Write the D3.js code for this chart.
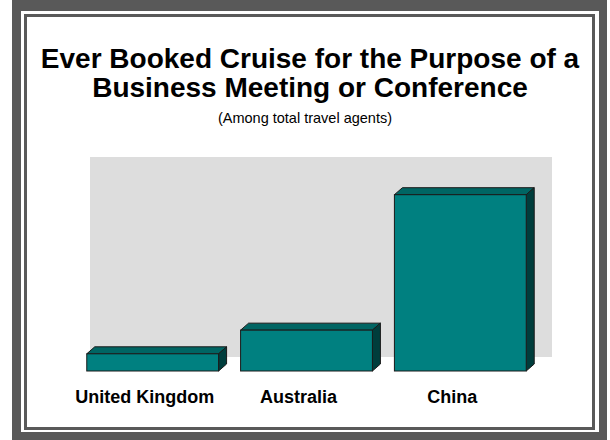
<!DOCTYPE html>
<html>
<head>
<meta charset="utf-8">
<script src="https://cdn.jsdelivr.net/npm/d3@7"></script>
<style>
	body { margin: 0; background: #ffffff; }
	text { font-family: "Liberation Sans", Arial, sans-serif; }
</style>
</head>
<body>
<script>
	const width = 610;
	const height = 440;

	//chart data (percent of agents)
	const categories = ["United Kingdom", "Australia", "China"];
	const values = [4, 9.5, 41];
	const titleLines = ["Ever Booked Cruise for the Purpose of a", "Business Meeting or Conference"];
	const subtitle = "(Among total travel agents)";

	const depthX = 8;
	const depthY = 7;

	const svg = d3.select("body")
		.append("svg")
		.attr("width", width)
		.attr("height", height);

	//frame: thick outer grey border, thin inner line
	svg.append("rect")
		.attr("x", 12).attr("y", 0)
		.attr("width", 595).attr("height", 440)
		.attr("fill", "#595959");
	svg.append("rect")
		.attr("x", 21).attr("y", 11)
		.attr("width", 578).attr("height", 421)
		.attr("fill", "#ffffff");
	svg.append("rect")
		.attr("x", 25.5).attr("y", 15.5)
		.attr("width", 568).attr("height", 413)
		.attr("fill", "none")
		.attr("stroke", "#595959")
		.attr("stroke-width", 3);

	//title
	svg.selectAll(".title")
		.data(titleLines)
		.enter()
		.append("text")
		.attr("class", "title")
		.attr("x", 310)
		.attr("y", function(d, i) { return 68 + i * 29; })
		.attr("text-anchor", "middle")
		.attr("font-size", 28)
		.attr("font-weight", "bold")
		.attr("fill", "#000")
		.text(function(d) { return d; });

	svg.append("text")
		.attr("x", 305)
		.attr("y", 123)
		.attr("text-anchor", "middle")
		.attr("font-size", 14.5)
		.attr("fill", "#000")
		.text(subtitle);

	//back wall of the plot
	svg.append("rect")
		.attr("x", 90).attr("y", 157)
		.attr("width", 462).attr("height", 200)
		.attr("fill", "#dddddd");

	const x = d3.scaleBand()
		.domain(categories)
		.range([76, 537])
		.paddingInner(0.143)
		.paddingOuter(0.07);

	const baseY = 371;
	const y = d3.scaleLinear()
		.domain([0, 50])
		.range([baseY, baseY - 215]);

	const bars = svg.selectAll(".bar")
		.data(categories)
		.enter()
		.append("g")
		.attr("class", "bar");

	//top face
	bars.append("path")
		.attr("fill", "#006563")
		.attr("stroke", "#1a1a1a")
		.attr("stroke-width", 1)
		.attr("stroke-linejoin", "round")
		.attr("d", function(d, i) {
			const x0 = x(d), x1 = x(d) + x.bandwidth(), t = y(values[i]);
			return "M" + x0 + "," + t + "L" + (x0 + depthX) + "," + (t - depthY) +
				"L" + (x1 + depthX) + "," + (t - depthY) + "L" + x1 + "," + t + "Z";
		});

	//side face
	bars.append("path")
		.attr("fill", "#003d3c")
		.attr("stroke", "#1a1a1a")
		.attr("stroke-width", 1)
		.attr("stroke-linejoin", "round")
		.attr("d", function(d, i) {
			const x1 = x(d) + x.bandwidth(), t = y(values[i]);
			return "M" + x1 + "," + t + "L" + (x1 + depthX) + "," + (t - depthY) +
				"L" + (x1 + depthX) + "," + (baseY - depthY) + "L" + x1 + "," + baseY + "Z";
		});

	//front face
	bars.append("rect")
		.attr("x", function(d) { return x(d); })
		.attr("y", function(d, i) { return y(values[i]); })
		.attr("width", x.bandwidth())
		.attr("height", function(d, i) { return baseY - y(values[i]); })
		.attr("fill", "#008080")
		.attr("stroke", "#1a1a1a")
		.attr("stroke-width", 1);

	//category labels
	svg.selectAll(".label")
		.data(categories)
		.enter()
		.append("text")
		.attr("class", "label")
		.attr("x", function(d) { return x(d) + x.bandwidth() / 2 - 8; })
		.attr("y", 403)
		.attr("text-anchor", "middle")
		.attr("font-size", 18)
		.attr("font-weight", "bold")
		.attr("fill", "#000")
		.text(function(d) { return d; });
</script>
</body>
</html>
